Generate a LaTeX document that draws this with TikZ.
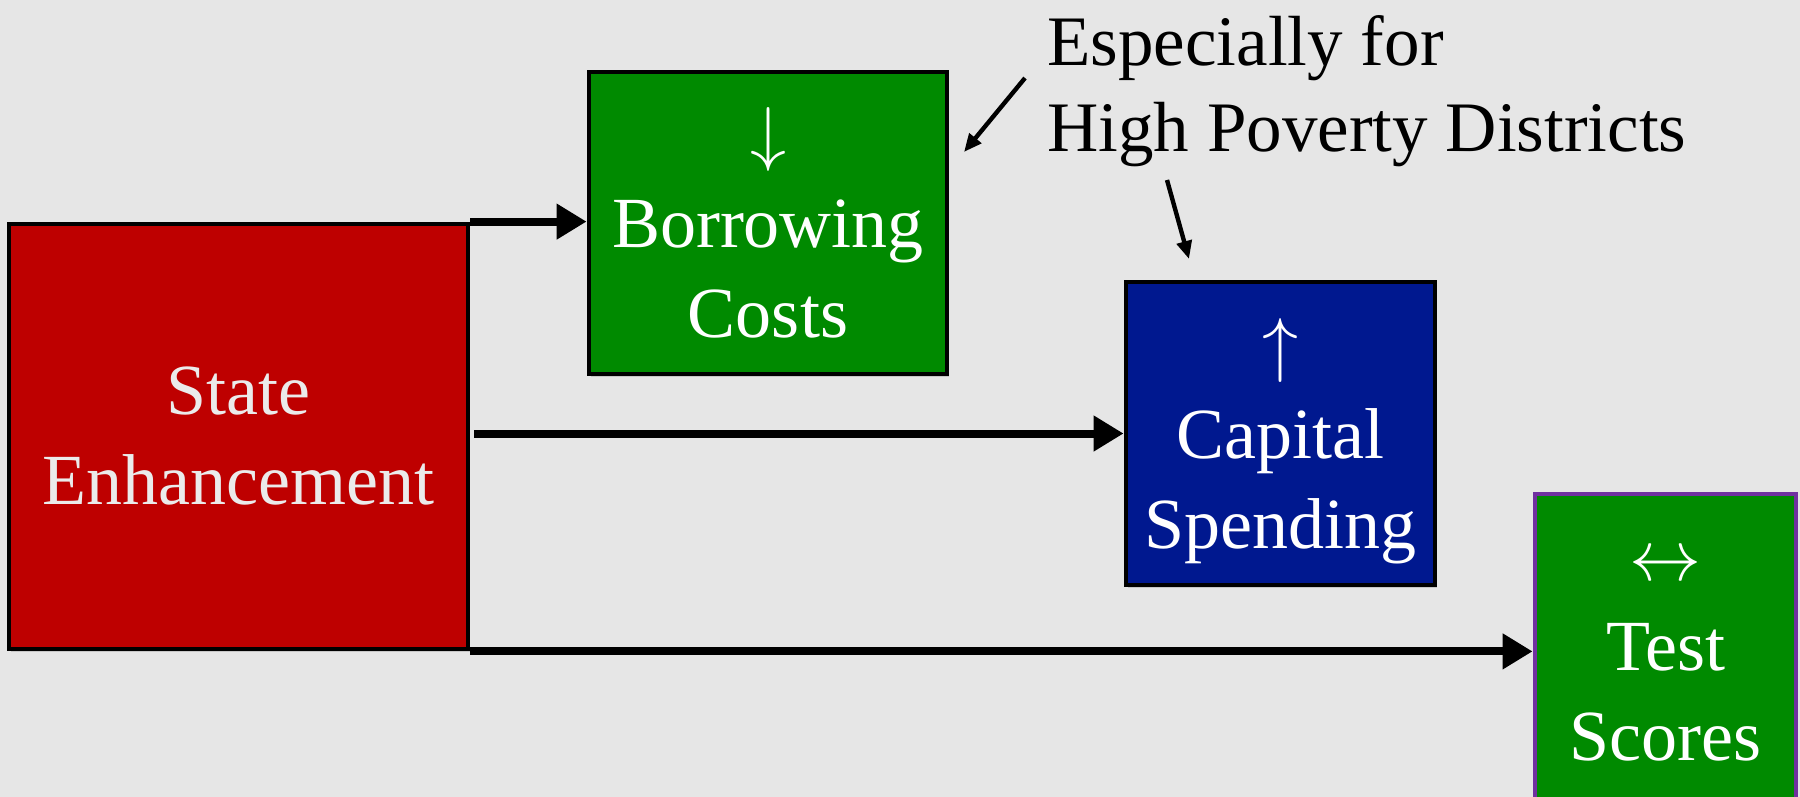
\documentclass[tikz,border=0pt]{standalone}
\usepackage{graphicx}
\usepackage{fontspec}
\setmainfont{Liberation Serif}
\usetikzlibrary{arrows.meta,shadows,calc}
\definecolor{bg}{HTML}{E6E6E6}
\definecolor{redbox}{HTML}{BE0000}
\definecolor{greenbox}{HTML}{008A00}
\definecolor{bluebox}{HTML}{00188F}
\definecolor{purpleedge}{HTML}{7030A0}
\definecolor{redtext}{HTML}{EBEBEB}
\newcommand{\bigsym}[1]{\scalebox{1.447}{\fontsize{24.88}{30}\selectfont$#1$}}
\begin{document}
\begin{tikzpicture}[x=0.5pt,y=-0.5pt,
  box/.style={draw=black, line width=2.4pt, rectangle, align=center, text=white,
    font=\fontsize{36}{45}\selectfont, inner sep=0pt,
    drop shadow={opacity=0.3, shadow xshift=1pt, shadow yshift=-1.5pt}},
  conn/.style={line width=4pt, -{Triangle[length=15pt,width=17pt]}},
  note/.style={line width=2.2pt, -{Triangle[length=9pt,width=7.5pt]}}
]
\fill[bg] (0,0) rectangle (1800,797);
\useasboundingbox (0,0) rectangle (1800,797);

\node[box, fill=redbox, text=redtext, minimum width=229.5pt, minimum height=212.5pt] (red) at (238.5,436.5) {State\\Enhancement};
\node[box, fill=greenbox, minimum width=179pt, minimum height=151pt] (borrow) at (768,223) {\bigsym{\downarrow}\\Borrowing\\Costs};
\node[box, fill=bluebox, text depth=0pt, minimum width=154.5pt, minimum height=151.5pt] (capital) at (1280.5,433.5) {\bigsym{\uparrow}\\Capital\\Spending};
\node[box, fill=greenbox, draw=purpleedge, minimum width=130.5pt, minimum height=164pt] (test) at (1665.5,658) {\bigsym{\leftrightarrow}\\Test\\Scores};

\draw[conn] (red.north east) -- (red.north east -| borrow.west);
\draw[conn] ($(red.east |- capital.west)+(4,0)$) -- (capital.west);
\draw[conn] (red.south east) -- (red.south east -| test.west);

\node[anchor=north west, align=left, inner sep=0pt, font=\fontsize{35.5}{43}\selectfont] (note) at (1047,15) {Especially for\\High Poverty Districts};

\coordinate (a1) at (1025,78);
\coordinate (a2) at (964,152);
\coordinate (b1) at (1167,180);
\coordinate (b2) at (1189,259);
\draw[note] (a1) -- (a2);
\draw[note] (b1) -- (b2);
\end{tikzpicture}
\end{document}
